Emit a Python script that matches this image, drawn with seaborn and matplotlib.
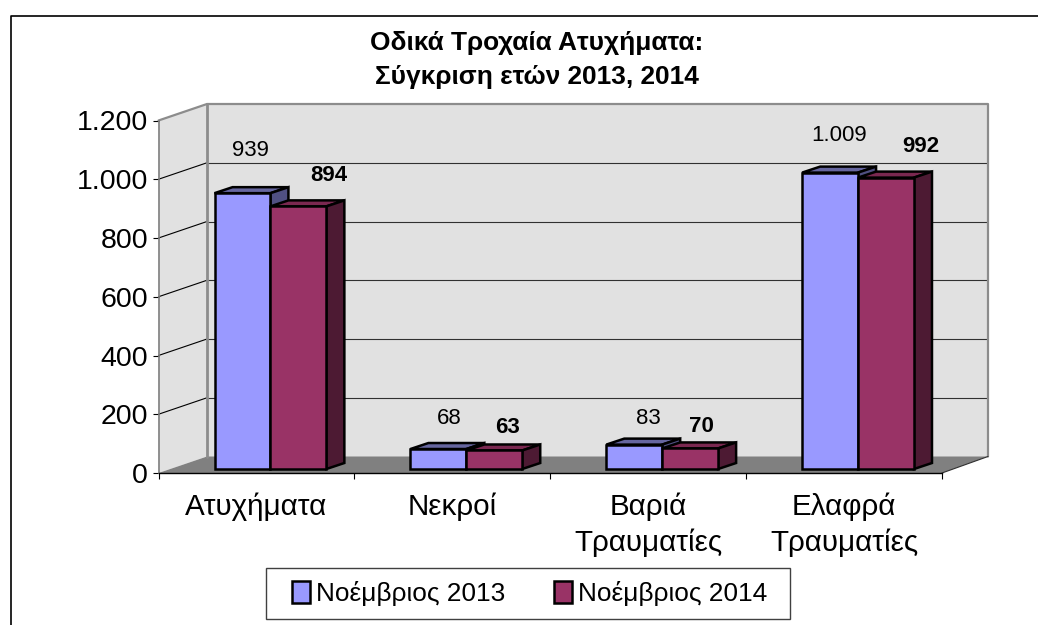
import pandas as pd
from matplotlib import pyplot as plt
from matplotlib.lines import Line2D
from matplotlib.patches import Polygon, Rectangle
from matplotlib.ticker import FuncFormatter
import seaborn as sns

title_lines = ["Οδικά Τροχαία Ατυχήματα:", "Σύγκριση ετών 2013, 2014"]
categories = ["Ατυχήματα", "Νεκροί", "Βαριά\nΤραυματίες", "Ελαφρά\nΤραυματίες"]
series_names = ["Νοέμβριος 2013", "Νοέμβριος 2014"]
values_2013 = [939, 68, 83, 1009]
values_2014 = [894, 63, 70, 992]
y_ticks = [0, 200, 400, 600, 800, 1000, 1200]

W, H = 1038, 625
front_left, front_right, front_bottom, front_top = 158.5, 942, 473, 120.5
colors = {"Νοέμβριος 2013": "#9999FF", "Νοέμβριος 2014": "#993366"}
top_colors = ["#66669F", "#7A2850"]
side_colors = ["#505082", "#4D1A33"]
# nudges of the value labels in pixels, from the middle of each bar's top edge
nudge_2013 = [(8, 43), (11, 31), (14, 26), (9, 37)]
nudge_2014 = [(30, 31), (13, 23), (11, 22), (35, 31)]

sns.set_style("white")
plt.rcParams["font.family"] = ["Liberation Sans", "DejaVu Sans"]
plt.rcParams["text.color"] = "black"
plt.rcParams["xtick.labelcolor"] = "black"
plt.rcParams["ytick.labelcolor"] = "black"

df = pd.DataFrame({
    "category": categories * 2,
    "series": [series_names[0]] * 4 + [series_names[1]] * 4,
    "value": values_2013 + values_2014,
})

fig = plt.figure(figsize=(W / 100, H / 100), dpi=100)
ax = fig.add_axes([front_left / W, 1 - front_bottom / H,
                   (front_right - front_left) / W, (front_bottom - front_top) / H])
sns.barplot(df, x="category", y="value", hue="series", palette=colors,
            width=0.571, gap=0, saturation=1, legend=False, ax=ax)
ax.set_xlim(-0.5, 3.5)
ax.set_ylim(0, 1200)
ax.set_xlabel("")
ax.set_ylabel("")

# pixels to data units
px = 4 / (front_right - front_left)
py = 1200 / (front_bottom - front_top)
wall_x, wall_y = 48.5 * px, 16.5 * py
x0, x1 = -0.5, 3.5
back_right = x1 + 46 * px

# walls and floor
ax.add_patch(Polygon([(x0, 0), (x0, 1200), (x0 + wall_x, 1200 + wall_y), (x0 + wall_x, wall_y)],
                     fc="#E1E1E1", ec="none", zorder=0.5, clip_on=False))
ax.add_patch(Rectangle((x0 + wall_x, wall_y), back_right - x0 - wall_x, 1200, fc="#E1E1E1", ec="none",
                       zorder=0.5, clip_on=False))
ax.add_patch(Polygon([(x0, 0), (x1, 0), (back_right, wall_y), (x0 + wall_x, wall_y)],
                     fc="#808080", ec="none", zorder=0.7, clip_on=False))
for t in y_ticks[1:-1]:
    ax.add_line(Line2D([x0, x0 + wall_x], [t, t + wall_y], color="black", lw=0.8, zorder=0.8, clip_on=False))
    ax.add_line(Line2D([x0 + wall_x, back_right], [t + wall_y, t + wall_y], color="#303030", lw=0.8,
                       zorder=0.8, clip_on=False))
ax.add_line(Line2D([x0, x0 + wall_x, back_right, back_right],
                   [1200, 1200 + wall_y, 1200 + wall_y, wall_y], color="#8C8C8C", lw=1.6, zorder=0.9, clip_on=False))
ax.add_line(Line2D([x0 + wall_x, x0 + wall_x], [wall_y, 1200 + wall_y], color="#8C8C8C", lw=2,
                   zorder=0.9, clip_on=False))
ax.add_line(Line2D([x1, back_right], [0, wall_y], color="#303030", lw=0.8, zorder=0.9, clip_on=False))

# 3d boxes made from the bars seaborn drew
shift_x, shift_y = 14 * px, 4 * py
depth_x, depth_y = 18 * px, 6 * py
z = 2
bars = sorted(list(ax.containers[0]) + list(ax.containers[1]), key=lambda b: b.get_x())
for bar in bars:
    s = 0 if bar in ax.containers[0].patches else 1
    bar.set_x(bar.get_x() + shift_x)
    bar.set_y(shift_y)
    bar.set_edgecolor("black")
    bar.set_linewidth(1.8)
    xa, xb = bar.get_x(), bar.get_x() + bar.get_width()
    ya, yb = shift_y, shift_y + bar.get_height()
    ax.add_patch(Polygon([(xa, yb), (xb, yb), (xb + depth_x, yb + depth_y), (xa + depth_x, yb + depth_y)],
                         fc=top_colors[s], ec="black", lw=1.8, zorder=z, joinstyle="miter"))
    ax.add_patch(Polygon([(xb, ya), (xb, yb), (xb + depth_x, yb + depth_y), (xb + depth_x, ya + depth_y)],
                         fc=side_colors[s], ec="black", lw=1.8, zorder=z, joinstyle="miter"))
    bar.set_zorder(z + 0.5)
    z += 1

# value labels
for s, (vals, nudges) in enumerate([(values_2013, nudge_2013), (values_2014, nudge_2014)]):
    for bar, val, (nx, ny) in zip(ax.containers[s], vals, nudges):
        ax.text(bar.get_x() + bar.get_width() / 2 + nx * px, shift_y + val + ny * py,
                f"{val:,}".replace(",", "."), ha="center", va="center", fontsize=16,
                fontweight="bold" if s == 1 else "normal", color="black", zorder=50)

# axes
sns.despine(ax=ax, top=True, right=True)
ax.spines["left"].set_color("#808080")
ax.spines["left"].set_linewidth(1.2)
ax.spines["left"].set_zorder(1)
ax.spines["bottom"].set_color("black")
ax.spines["bottom"].set_linewidth(1)
ax.set_yticks(y_ticks)
ax.yaxis.set_major_formatter(FuncFormatter(lambda v, _: f"{int(v):,}".replace(",", ".")))
ax.tick_params(axis="y", left=True, length=4.5, width=0.8, color="black", pad=3, labelsize=20.5)
ax.set_xticks([-0.5, 0.5, 1.5, 2.5, 3.5])
ax.set_xticklabels([])
ax.set_xticks(range(4), categories, minor=True)
ax.tick_params(axis="x", which="major", bottom=True, length=4.5, width=0.8, color="black")
ax.tick_params(axis="x", which="minor", bottom=False, length=0, pad=14, labelsize=21.3)
for lab in ax.get_xticklabels(minor=True):
    lab.set_linespacing(1.35)

# title
fig.text(537 / W, 1 - 60 / H, "\n".join(title_lines), ha="center", va="center",
         fontsize=18.9, fontweight="bold", linespacing=1.52)

# legend, the box is drawn apart because its padding is uneven
fig.add_artist(Rectangle((266 / W, 1 - 618.5 / H), 524 / W, 50.5 / H, transform=fig.transFigure,
                         fc="white", ec="#404040", lw=1))
handles = [Rectangle((0, 0), 1, 1, fc=colors[n], ec="black", lw=1.8) for n in series_names]
leg = fig.legend(handles, series_names, loc="center left", bbox_to_anchor=(292 / W, 1 - 593.5 / H),
                 ncol=2, frameon=False, fontsize=18.9, handlelength=0.7, handleheight=0.92,
                 handletextpad=0.22, columnspacing=1.85, borderpad=0, borderaxespad=0)

# outer frame, open on the right and at the bottom
fig.add_artist(Line2D([10.5 / W, 10.5 / W, 1], [0, 1 - 15.5 / H, 1 - 15.5 / H], color="black", lw=1.2))

fig.savefig("out.png", dpi=100)
